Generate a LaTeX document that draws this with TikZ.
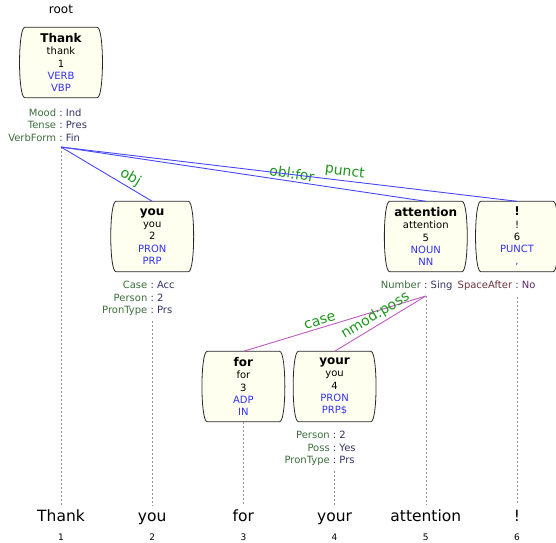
\documentclass[tikz,border=0pt]{standalone}
\usepackage{fontspec}
\setmainfont{DejaVu Sans}
\usepackage{tikz}
\usetikzlibrary{arrows,positioning,calc,backgrounds}

\definecolor{uposblue}{RGB}{50,50,240}
\definecolor{arcblue}{RGB}{70,70,255}
\definecolor{arcpink}{RGB}{190,90,190}
\definecolor{lblgreen}{RGB}{30,150,30}
\definecolor{fkey}{RGB}{60,110,60}
\definecolor{fval}{RGB}{50,50,100}
\definecolor{mkey}{RGB}{110,50,60}
\definecolor{mval}{RGB}{90,40,110}
\definecolor{boxfill}{RGB}{255,255,240}
\definecolor{guidegray}{RGB}{150,150,150}

\newcommand{\tokhead}[1]{{\fontsize{12}{12.2}\selectfont\bfseries #1}}
\newcommand{\upos}[1]{{\color{uposblue}#1}}
\newcommand{\feat}[2]{\makebox[0pt][r]{\color{fkey}#1\ }{\color{fval}:}\makebox[0pt][l]{\color{fval}\ #2}}
\newcommand{\miscfeat}[2]{\makebox[0pt][r]{\color{mkey}#1\ }{\color{mval}:}\makebox[0pt][l]{\color{mval}\ #2}}

\tikzset{
  tok/.style={align=center, inner sep=0pt, minimum width=72pt, minimum height=70pt,
              font=\fontsize{10}{12.2}\selectfont},
  tokframe/.style={draw={rgb,255:red,40;green,40;blue,40}, line width=0.8pt, fill=boxfill},
  feats/.style={align=center, inner sep=0pt, font=\fontsize{10}{12.3}\selectfont},
  word/.style={anchor=base, inner sep=0pt, text height=16.5pt, text depth=4pt,
               font=\fontsize{15.5}{18}\selectfont},
  idx/.style={anchor=base, inner sep=0pt, font=\fontsize{9}{10}\selectfont},
  guide/.style={draw=guidegray, line width=0.6pt, dash pattern=on 2pt off 2pt},
  deparc/.style={draw=arcblue, line width=0.9pt},
  modarc/.style={draw=arcpink, line width=0.9pt},
  lbl/.style={sloped, anchor=south, inner sep=2pt, text=lblgreen,
              font=\fontsize{14}{16}\selectfont}
}

\begin{document}
\begin{tikzpicture}[x=1pt, y=-1pt]
\useasboundingbox (0,0) rectangle (556,542);

\node[font=\fontsize{12}{13}\selectfont] (root) at (61,9) {root};

% token boxes
\node[tok] (thank) at (61,62.5) {\tokhead{Thank}\\thank\\1\\\upos{VERB}\\\upos{VBP}};
\node[tok] (you) at (152.2,236.5) {\tokhead{you}\\you\\2\\\upos{PRON}\\\upos{PRP}};
\node[tok] (for) at (243.4,386.5) {\tokhead{for}\\for\\3\\\upos{ADP}\\\upos{IN}};
\node[tok] (your) at (334.6,386.5) {\tokhead{your}\\you\\4\\\upos{PRON}\\\upos{PRP\$}};
\node[tok] (attention) at (425.8,236.5) {\tokhead{attention}\\attention\\5\\\upos{NOUN}\\\upos{NN}};
\node[tok] (excl) at (517,236.5) {\tokhead{!}\\!\\6\\\upos{PUNCT}\\\upos{,}};

\begin{scope}[on background layer]
\foreach \t in {thank,you,for,your,attention,excl}
  \draw[tokframe] (\t.north west) -- (\t.north east) .. controls +(7,0) and +(7,0) .. (\t.south east)
    -- (\t.south west) .. controls +(-7,0) and +(-7,0) .. cycle;
\end{scope}

% features
\node[feats] (thank-f) at (61,125) {\feat{Mood}{Ind}\\\feat{Tense}{Pres}\\\feat{VerbForm}{Fin}};
\node[feats] (you-f) at (152.2,298.5) {\feat{Case}{Acc}\\\feat{Person}{2}\\\feat{PronType}{Prs}};
\node[feats] (your-f) at (334.6,448.5) {\feat{Person}{2}\\\feat{Poss}{Yes}\\\feat{PronType}{Prs}};
\node[feats] (attention-f) at (425.8,285.5) {\feat{Number}{Sing}};
\node[feats] (excl-f) at (517,285.5) {\miscfeat{SpaceAfter}{No}};

\coordinate (thank-o) at (61,147);
\coordinate (attention-o) at (425.8,296);
\coordinate (excl-o) at (517,297);

% words and indices
\foreach \w/\x [count=\i] in {Thank/61,you/152.2,for/243.4,your/334.6,attention/425.8,!/517} {
  \node[word] (w\i) at (\x,521.5) {\w};
  \node[idx] (n\i) at (\x,540) {\i};
}

% guides
\draw[guide] (thank-o) -- (w1);
\draw[guide, shorten <=5pt] (you-f) -- (w2);
\draw[guide] (for) -- (w3);
\draw[guide, shorten <=5pt] (your-f) -- (w4);
\draw[guide] (attention-o) -- (w5);
\draw[guide] (excl-o) -- (w6);

% relations
\draw[deparc] (thank-o) -- node[lbl, pos=.71] {obj} (you.north);
\draw[deparc] (thank-o) -- node[lbl, pos=.63] {obl:for} (attention.north);
\draw[deparc] (thank-o) -- node[lbl, pos=.62] {punct} (excl.north);
\draw[modarc] (for.north) -- node[lbl, pos=.43] {case} (attention-o);
\draw[modarc] (your.north) -- node[lbl, pos=.5] {nmod:poss} (attention-o);
\end{tikzpicture}
\end{document}
